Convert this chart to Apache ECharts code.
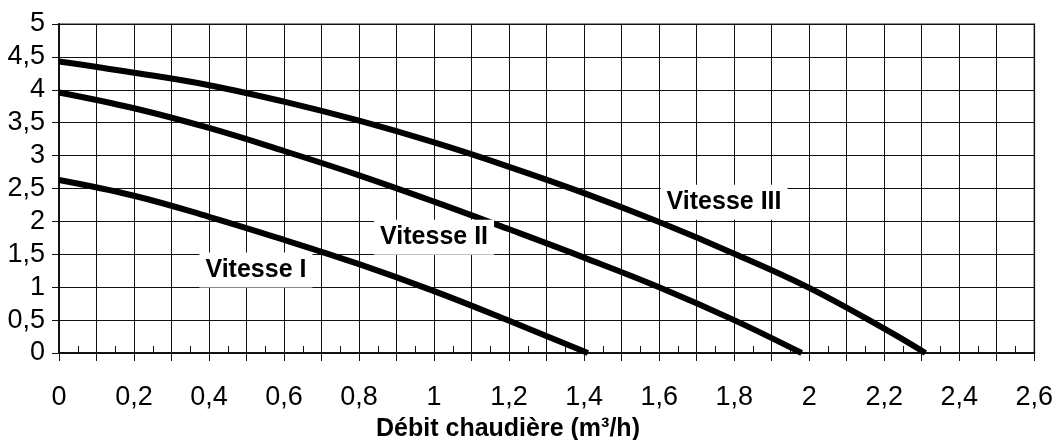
<!DOCTYPE html>
<html>
<head>
<meta charset="utf-8">
<script src="https://cdn.jsdelivr.net/npm/echarts@6/dist/echarts.min.js"></script>
<style>
  html, body { margin: 0; padding: 0; background: #fff; }
  #chart { width: 1056px; height: 440px; }
</style>
</head>
<body>
<div id="chart"></div>
<script>
// Data
var xTitle = 'Débit chaudière (m³/h)';

var seriesNames = ['Vitesse I', 'Vitesse II', 'Vitesse III'];

var flowI   = [0, 0.2, 0.4, 0.6, 0.8, 1.0, 1.2, 1.41];
var headI   = [2.63, 2.39, 2.07, 1.72, 1.35, 0.94, 0.49, 0];

var flowII  = [0, 0.2, 0.4, 0.6, 0.8, 1.0, 1.2, 1.4, 1.6, 1.8, 1.98];
var headII  = [3.96, 3.72, 3.42, 3.07, 2.70, 2.30, 1.88, 1.45, 1.0, 0.5, 0];

var flowIII = [0, 0.2, 0.4, 0.6, 0.8, 1.0, 1.2, 1.4, 1.6, 1.8, 2.0, 2.2, 2.31];
var headIII = [4.43, 4.26, 4.07, 3.82, 3.53, 3.20, 2.83, 2.43, 1.99, 1.51, 0.99, 0.37, 0];

// label anchor points (data coordinates)
var labelPosI   = [0.525, 1.26];
var labelPosII  = [1.00, 1.76];
var labelPosIII = [1.773, 2.29];

function pairs(xs, ys) {
  return xs.map(function (x, i) { return [x, ys[i]]; });
}
function fmt(v) {
  var r = Math.round(v * 10) / 10;
  return String(r).replace('.', ',');
}

var FONT = "'Liberation Sans', Arial, sans-serif";

var chart = echarts.init(document.getElementById('chart'), null, { renderer: 'canvas' });

function labelMark(name, pos) {
  return {
    symbol: 'rect',
    symbolSize: 0,
    silent: true,
    data: [{ coord: pos, value: name }],
    label: {
      show: true,
      position: 'inside',
      formatter: name,
      fontFamily: FONT,
      fontSize: 25,
      fontWeight: 'bold',
      color: '#000',
      backgroundColor: '#fff',
      padding: [5, 6, 5, 6]
    },
    z: 10
  };
}

function lineSeries(name, xs, ys, pos) {
  return {
    name: name,
    type: 'line',
    xAxisIndex: 0,
    yAxisIndex: 0,
    data: pairs(xs, ys),
    smooth: 0.4,
    showSymbol: false,
    symbol: 'none',
    lineStyle: { color: '#000', width: 6, cap: 'butt' },
    markPoint: labelMark(name, pos),
    z: 3
  };
}

var option = {
  backgroundColor: '#fff',
  animation: false,
  grid: {
    left: 59, right: 21, top: 24, bottom: 87,
    show: true,
    borderColor: '#8c8c8c',
    borderWidth: 2,
    backgroundColor: 'transparent'
  },
  xAxis: [
    {
      type: 'value',
      min: 0, max: 2.6, interval: 0.1,
      position: 'bottom',
      axisLine: { show: true, onZero: false, lineStyle: { color: '#111', width: 2 } },
      axisTick: { show: true, inside: false, length: 8, lineStyle: { color: '#111', width: 1 } },
      axisLabel: {
        show: true,
        margin: 31,
        fontFamily: FONT,
        fontSize: 27,
        color: '#000',
        formatter: function (v) {
          var k = Math.round(v * 10);
          return (k % 2 === 0) ? fmt(v) : '';
        }
      },
      splitLine: { show: true, lineStyle: { color: '#111', width: 1 } }
    },
    {
      type: 'value',
      min: 0, max: 2.6, interval: 0.05,
      position: 'top',
      offset: -329,
      axisLine: { show: false },
      axisTick: { show: true, inside: false, length: 7, lineStyle: { color: '#111', width: 1 } },
      axisLabel: { show: false },
      splitLine: { show: false }
    }
  ],
  yAxis: {
    type: 'value',
    min: 0, max: 5, interval: 0.5,
    axisLine: { show: true, onZero: false, lineStyle: { color: '#111', width: 2 } },
    axisTick: { show: true, inside: false, length: 7, lineStyle: { color: '#111', width: 1 } },
    axisLabel: {
      margin: 14,
      fontFamily: FONT,
      fontSize: 27,
      color: '#000',
      formatter: function (v) { return fmt(v); }
    },
    splitLine: { show: true, lineStyle: { color: '#111', width: 1 } }
  },
  graphic: [
    {
      type: 'text',
      x: 508,
      y: 429,
      style: {
        text: xTitle,
        fontFamily: FONT,
        fontSize: 25,
        fontWeight: 'bold',
        fill: '#000',
        align: 'center',
        verticalAlign: 'middle'
      }
    }
  ],
  series: [
    lineSeries(seriesNames[0], flowI, headI, labelPosI),
    lineSeries(seriesNames[1], flowII, headII, labelPosII),
    lineSeries(seriesNames[2], flowIII, headIII, labelPosIII)
  ]
};

chart.setOption(option);
</script>
</body>
</html>
